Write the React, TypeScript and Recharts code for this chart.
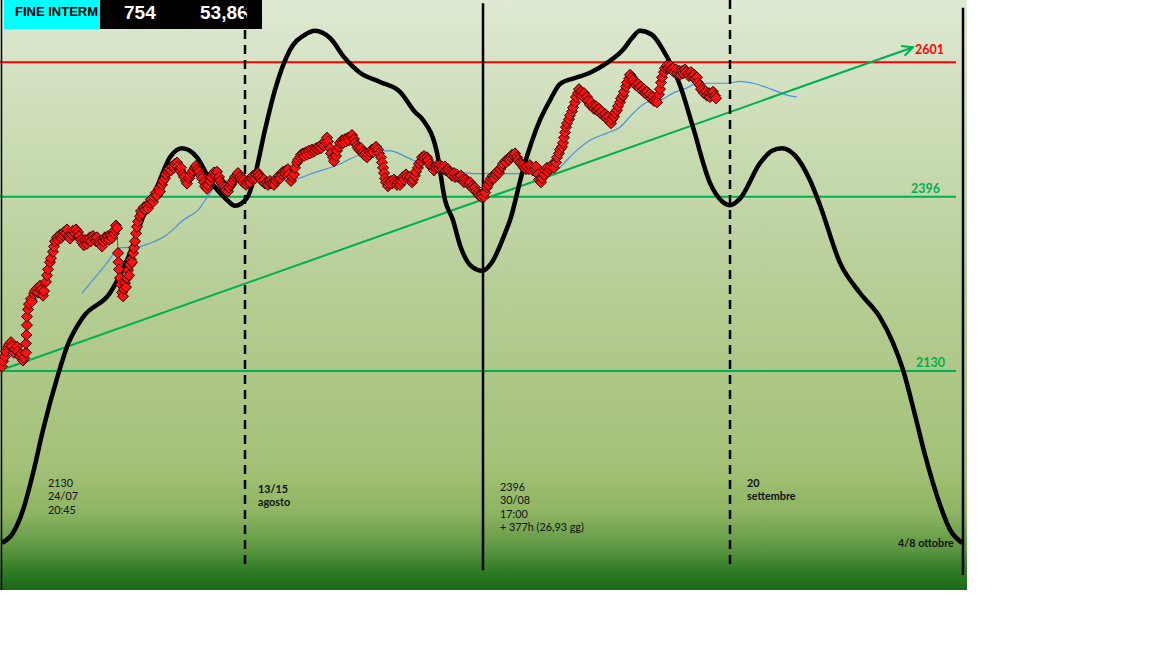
import React from "react";
import { ComposedChart, Line, XAxis, YAxis, ReferenceLine, ReferenceDot } from "recharts";

// x = time position (bar index), y = price
const cycleCurve: [number, number][] = [
  [2, 1868], [13, 1883], [23, 1918], [33, 1974], [43, 2040], [58, 2124], [67, 2167], [83, 2212],
  [110, 2249], [130, 2310], [143, 2365], [157, 2411], [170, 2456], [182, 2470], [197, 2456],
  [210, 2421], [227, 2391], [235, 2382], [247, 2394], [255, 2429], [265, 2498], [275, 2559],
  [290, 2620], [305, 2643], [315, 2649], [330, 2638], [345, 2607], [360, 2585], [380, 2571],
  [400, 2556], [415, 2525], [423, 2513], [437, 2463], [445, 2391], [453, 2360], [460, 2322],
  [472, 2289], [482, 2283], [492, 2296], [505, 2340], [510, 2360], [523, 2437], [540, 2513],
  [550, 2543], [560, 2568], [575, 2577], [590, 2585], [607, 2600], [623, 2620], [632, 2638],
  [640, 2649], [652, 2643], [663, 2620], [680, 2566], [693, 2502], [710, 2417], [720, 2392],
  [730, 2383], [740, 2393], [760, 2447], [772, 2466], [782, 2470], [795, 2459], [810, 2421],
  [820, 2383], [840, 2295], [860, 2249], [880, 2212], [893, 2173], [903, 2132], [915, 2063],
  [925, 2002], [940, 1926], [950, 1888], [962, 1868],
];

const priceSeries: [number, number][] = [
  [2, 2137], [3, 2145], [5, 2152], [6, 2160], [8, 2166], [9, 2170], [11, 2174], [12, 2168], [14, 2158],
  [15, 2163], [17, 2167], [18, 2160], [20, 2152], [21, 2156], [23, 2146], [24, 2150], [26, 2158],
  [26, 2172], [26.5, 2185], [27, 2200], [27, 2213], [28, 2224],
  [29, 2232], [31, 2240], [32, 2236], [34, 2248], [35, 2252], [37, 2256], [38, 2250], [40, 2260],
  [41, 2254], [43, 2245], [44, 2252], [46, 2266], [47, 2276], [48, 2285], [50, 2296], [51, 2302],
  [53, 2312], [54, 2320], [55, 2328], [57, 2334], [58, 2330], [60, 2338], [61, 2333], [63, 2337],
  [64, 2342], [66, 2340], [67, 2346], [69, 2336], [70, 2332], [72, 2338], [73, 2344], [75, 2340],
  [76, 2346], [78, 2342], [79, 2336], [81, 2330], [82, 2326], [84, 2322], [85, 2330], [87, 2324],
  [88, 2330], [90, 2334], [91, 2328], [93, 2336], [94, 2332], [96, 2328], [97, 2334], [99, 2327],
  [100, 2324], [102, 2320], [103, 2328], [105, 2334], [106, 2330], [108, 2336], [109, 2330],
  [111, 2337], [112, 2333], [114, 2340], [115, 2345], [116, 2352], [117, 2348],
  [118, 2310], [118.5, 2296], [119, 2285], [120, 2272], [121, 2262], [122, 2250], [123, 2244],
  [124, 2255], [125, 2264], [126, 2258], [127, 2272], [128, 2284], [129, 2276], [130, 2292],
  [131, 2300], [132, 2296], [133, 2310], [134, 2318], [135, 2328], [136, 2340], [137, 2350],
  [138, 2358], [140, 2366], [141, 2374], [142, 2370], [144, 2380], [145, 2376], [147, 2383],
  [148, 2378], [150, 2386], [151, 2392], [153, 2388], [154, 2396], [156, 2402], [157, 2398],
  [159, 2408], [160, 2404], [162, 2414], [163, 2420], [165, 2424], [166, 2430], [168, 2434],
  [169, 2438], [171, 2436], [172, 2442], [174, 2440], [175, 2446], [177, 2448], [178, 2442],
  [180, 2436], [181, 2440], [183, 2430], [184, 2426], [186, 2420], [187, 2416], [189, 2424],
  [190, 2428], [192, 2432], [193, 2436], [195, 2440], [196, 2443], [198, 2438], [199, 2434],
  [201, 2428], [202, 2424], [204, 2418], [205, 2412], [207, 2408], [208, 2414], [210, 2420],
  [211, 2426], [213, 2430], [214, 2433], [216, 2428], [217, 2434], [219, 2426], [220, 2420],
  [222, 2416], [223, 2412], [225, 2410], [226, 2406], [228, 2404], [229, 2410], [231, 2414],
  [232, 2418], [234, 2422], [235, 2426], [237, 2428], [238, 2432], [240, 2426], [241, 2422],
  [243, 2418], [244, 2422], [246, 2414], [247, 2418], [249, 2422], [250, 2418], [252, 2424],
  [253, 2428], [255, 2424], [256, 2430], [258, 2432], [259, 2428], [261, 2424], [262, 2420],
  [264, 2422], [265, 2416], [267, 2418], [268, 2414], [270, 2420], [271, 2416], [273, 2418],
  [274, 2414], [276, 2420], [277, 2424], [279, 2428], [280, 2424], [282, 2430], [283, 2434],
  [285, 2432], [286, 2436], [288, 2438], [289, 2430], [291, 2420], [292, 2426], [294, 2430],
  [295, 2440], [297, 2448], [298, 2452], [300, 2456], [301, 2460], [303, 2462], [304, 2458],
  [306, 2464], [307, 2460], [309, 2466], [310, 2462], [312, 2468], [313, 2464], [315, 2466],
  [316, 2470], [318, 2468], [319, 2472], [321, 2470], [322, 2476], [324, 2474], [325, 2480],
  [327, 2486], [328, 2480], [330, 2470], [331, 2462], [333, 2456], [334, 2450], [336, 2458],
  [337, 2466], [339, 2472], [340, 2478], [342, 2482], [343, 2478], [345, 2484], [346, 2480],
  [348, 2486], [349, 2482], [351, 2488], [352, 2490], [354, 2484], [355, 2478], [357, 2474],
  [358, 2470], [360, 2466], [361, 2470], [363, 2464], [364, 2460], [366, 2462], [367, 2456],
  [369, 2460], [370, 2464], [372, 2468], [373, 2464], [375, 2470], [376, 2472], [378, 2468],
  [379, 2462], [381, 2456], [382, 2448], [383, 2440], [384, 2432], [385, 2424], [386, 2418],
  [388, 2412], [389, 2416], [391, 2420], [392, 2416], [394, 2422], [395, 2418], [397, 2414],
  [398, 2418], [400, 2414], [401, 2420], [403, 2426], [404, 2422], [406, 2430], [407, 2426],
  [409, 2422], [410, 2426], [412, 2418], [413, 2422], [415, 2428], [416, 2434], [418, 2440],
  [419, 2446], [421, 2450], [422, 2456], [424, 2458], [425, 2454], [427, 2456], [428, 2452],
  [430, 2446], [431, 2442], [433, 2440], [434, 2436], [436, 2440], [437, 2444], [439, 2440],
  [440, 2444], [442, 2442], [443, 2438], [445, 2442], [446, 2436], [448, 2438], [449, 2434],
  [451, 2432], [452, 2428], [454, 2432], [455, 2426], [457, 2430], [458, 2426], [460, 2424],
  [461, 2428], [463, 2422], [464, 2418], [466, 2422], [467, 2418], [469, 2414], [470, 2418],
  [472, 2412], [473, 2408], [475, 2410], [476, 2404], [478, 2402], [479, 2398], [481, 2396],
  [482, 2400], [484, 2396], [485, 2402], [487, 2410], [488, 2414], [490, 2420], [491, 2424],
  [493, 2428], [494, 2424], [496, 2430], [497, 2434], [499, 2432], [500, 2438], [502, 2442],
  [503, 2446], [505, 2450], [506, 2448], [508, 2454], [509, 2452], [511, 2456], [512, 2460],
  [514, 2458], [515, 2462], [517, 2456], [518, 2452], [520, 2448], [521, 2446], [523, 2444],
  [524, 2440], [526, 2438], [527, 2442], [529, 2438], [530, 2444], [532, 2440], [533, 2436],
  [535, 2438], [536, 2442], [538, 2430], [539, 2422], [541, 2418], [542, 2424], [544, 2430],
  [545, 2436], [547, 2440], [548, 2434], [550, 2438], [551, 2442], [553, 2446], [554, 2440],
  [556, 2448], [557, 2456], [559, 2462], [560, 2468], [562, 2472], [563, 2478], [564, 2486],
  [565, 2494], [566, 2502], [567, 2508], [569, 2514], [570, 2520], [572, 2526], [573, 2532],
  [575, 2540], [576, 2548], [578, 2554], [579, 2560], [581, 2556], [582, 2550], [584, 2554],
  [585, 2546], [587, 2548], [588, 2542], [590, 2536], [591, 2540], [593, 2534], [594, 2530],
  [596, 2534], [597, 2528], [599, 2530], [600, 2524], [602, 2526], [603, 2520], [605, 2522],
  [606, 2516], [608, 2518], [609, 2512], [611, 2508], [612, 2514], [614, 2518], [615, 2524],
  [617, 2528], [618, 2534], [620, 2540], [621, 2546], [623, 2550], [624, 2556], [626, 2564],
  [627, 2570], [629, 2576], [630, 2582], [632, 2578], [633, 2574], [635, 2570], [636, 2566],
  [638, 2568], [639, 2562], [641, 2564], [642, 2558], [644, 2560], [645, 2554], [647, 2556],
  [648, 2550], [650, 2552], [651, 2546], [653, 2548], [654, 2542], [656, 2544], [657, 2540],
  [659, 2552], [660, 2560], [661, 2570], [662, 2578], [664, 2586], [665, 2592], [667, 2596],
  [668, 2592], [670, 2596], [671, 2590], [673, 2592], [674, 2586], [676, 2590], [677, 2584],
  [679, 2588], [680, 2582], [682, 2588], [683, 2584], [685, 2590], [686, 2586], [688, 2584],
  [689, 2580], [691, 2586], [692, 2580], [694, 2582], [695, 2576], [697, 2578], [698, 2570],
  [700, 2566], [701, 2560], [703, 2558], [704, 2554], [706, 2556], [707, 2550], [709, 2554],
  [710, 2548], [712, 2552], [713, 2556], [715, 2550], [716, 2546],
];

const averageSeries: [number, number][] = [
  [82, 2249], [93, 2269], [107, 2295], [117, 2315], [120, 2318], [137, 2319], [150, 2325],
  [167, 2338], [183, 2360], [200, 2379], [207, 2395], [217, 2414], [233, 2421], [250, 2424],
  [270, 2424], [290, 2421], [313, 2432], [337, 2444], [360, 2460], [380, 2466], [390, 2466],
  [407, 2456], [420, 2447], [447, 2437], [467, 2432], [480, 2431], [513, 2431], [540, 2432],
  [557, 2437], [567, 2452], [577, 2467], [590, 2482], [607, 2493], [620, 2502], [630, 2518],
  [640, 2533], [647, 2540], [660, 2543], [673, 2554], [687, 2562], [697, 2569], [713, 2569],
  [727, 2569], [740, 2572], [753, 2569], [773, 2559], [787, 2551], [797, 2548],
];

const trendSeries: [number, number][] = [[2, 2132], [913, 2624]];

const levels = [
  { value: 2601, label: "2601", color: "#ff0000", labelX: 915, labelUp: 12 },
  { value: 2396, label: "2396", color: "#00b050", labelX: 911, labelUp: 6 },
  { value: 2130, label: "2130", color: "#00b050", labelX: 916, labelUp: 6 },
];

const notes = [
  { x: 48, y: 1953, lines: ["2130", "24/07", "20:45"], bold: false },
  { x: 258, y: 1944, lines: ["13/15", "agosto"], bold: true },
  { x: 500, y: 1947, lines: ["2396", "30/08", "17:00", "+ 377h (26,93 gg)"], bold: false },
  { x: 747, y: 1953, lines: ["20", "settembre"], bold: true },
  { x: 898, y: 1862, lines: ["4/8 ottobre"], bold: true },
];

const toRows = (s: [number, number][]) => s.map(([t, v]) => ({ t, v }));

const X_DOMAIN: [number, number] = [0, 967];
const Y_DOMAIN: [number, number] = [1796, 2696];

const Diamond = (props: any) => {
  const { cx, cy, index } = props;
  if (cx == null || cy == null) return <g key={`d${index}`} />;
  const s = 5.5;
  return (
    <polygon
      key={`d${index}`}
      points={`${cx},${cy - s} ${cx + s},${cy} ${cx},${cy + s} ${cx - s},${cy}`}
      fill="#ff1010"
      stroke="#2a0000"
      strokeWidth={1}
    />
  );
};

const ArrowDot = (props: any) => {
  const { cx, cy, index, points } = props;
  if (cx == null || !points || index !== points.length - 1) return <g key={`a${index}`} />;
  const p0 = points[0];
  const ang = Math.atan2(cy - p0.y, cx - p0.x);
  const L = 12;
  const a1 = ang + Math.PI - 0.45;
  const a2 = ang + Math.PI + 0.45;
  return (
    <path
      key={`a${index}`}
      d={`M${cx + L * Math.cos(a1)},${cy + L * Math.sin(a1)} L${cx},${cy} L${cx + L * Math.cos(a2)},${cy + L * Math.sin(a2)}`}
      fill="none"
      stroke="#00b050"
      strokeWidth={2}
    />
  );
};

export default function App() {
  const font = "Lato, 'Open Sans', sans-serif";
  return (
    <div
      style={{
        position: "absolute",
        left: 0,
        top: 0,
        width: 967,
        height: 590,
        background:
          "linear-gradient(to bottom, #dfe9d3 0%, #c9dbb2 25%, #b6cd95 50%, #a5c177 79%, #8db462 87%, #5d9642 93%, #2e7a24 97%, #1a681a 100%)",
      }}
    >
      <div style={{ position: "absolute", left: 4, top: 0, width: 96, height: 29, background: "#00ffff" }} />
      <div style={{ position: "absolute", left: 100, top: 0, width: 162, height: 29, background: "#000" }} />
      <div style={{ position: "absolute", left: 15, top: 4, font: "bold 13px 'Liberation Sans', Arial, sans-serif", color: "#000" }}>
        FINE INTERM
      </div>
      <div style={{ position: "absolute", left: 124, top: 2, font: "bold 19px 'Liberation Sans', Arial, sans-serif", color: "#fff" }}>
        754
      </div>
      <div style={{ position: "absolute", left: 200, top: 2, font: "bold 19px 'Liberation Sans', Arial, sans-serif", color: "#fff" }}>
        53,86
      </div>
      <div style={{ position: "absolute", left: 0, top: 0 }}>
        <ComposedChart width={967} height={590} margin={{ top: 0, right: 0, bottom: 0, left: 0 }}>
          <XAxis type="number" dataKey="t" domain={X_DOMAIN} allowDataOverflow hide />
          <YAxis type="number" dataKey="v" domain={Y_DOMAIN} allowDataOverflow hide />
          {levels.map((l) => (
            <ReferenceLine
              key={l.label}
              segment={[{ x: 0, y: l.value }, { x: 956, y: l.value }]}
              stroke={l.color}
              strokeWidth={2}
              ifOverflow="visible"
            />
          ))}
          <Line
            data={toRows(priceSeries)}
            dataKey="v"
            type="linear"
            stroke="#ff2020"
            strokeWidth={1}
            dot={Diamond}
            activeDot={false}
            isAnimationActive={false}
          />
          <Line
            data={toRows(averageSeries)}
            dataKey="v"
            type="monotone"
            stroke="#4f8fe0"
            strokeWidth={1.2}
            dot={false}
            activeDot={false}
            isAnimationActive={false}
          />
          <Line
            data={toRows(trendSeries)}
            dataKey="v"
            type="linear"
            stroke="#00b050"
            strokeWidth={2}
            dot={ArrowDot}
            activeDot={false}
            isAnimationActive={false}
          />
          <Line
            data={toRows(cycleCurve)}
            dataKey="v"
            type="monotone"
            stroke="#000"
            strokeWidth={4.5}
            dot={false}
            activeDot={false}
            isAnimationActive={false}
          />
          <ReferenceLine segment={[{ x: 245, y: 2696 }, { x: 245, y: 1830 }]} stroke="#000" strokeWidth={2.5} strokeDasharray="9 6" ifOverflow="visible" />
          <ReferenceLine segment={[{ x: 730, y: 2696 }, { x: 730, y: 1830 }]} stroke="#000" strokeWidth={2.5} strokeDasharray="9 6" ifOverflow="visible" />
          <ReferenceLine segment={[{ x: 483, y: 2691 }, { x: 483, y: 1826 }]} stroke="#000" strokeWidth={2.5} ifOverflow="visible" />
          <ReferenceLine segment={[{ x: 963, y: 2684 }, { x: 963, y: 1819 }]} stroke="#000" strokeWidth={2.5} ifOverflow="visible" />
          <ReferenceLine segment={[{ x: 1.5, y: 2696 }, { x: 1.5, y: 1796 }]} stroke="#000" strokeWidth={1.5} ifOverflow="visible" />
          {levels.map((l) => (
            <ReferenceDot
              key={`lab${l.label}`}
              x={l.labelX}
              y={l.value + l.labelUp}
              r={1}
              ifOverflow="visible"
              shape={(p: any) => (
                <text x={p.cx} y={p.cy} fill={l.color} fontFamily={font} fontWeight="bold" fontSize={12.5}>
                  {l.label}
                </text>
              )}
            />
          ))}
          {notes.map((n, i) => (
            <ReferenceDot
              key={`note${i}`}
              x={n.x}
              y={n.y}
              r={1}
              ifOverflow="visible"
              shape={(p: any) => (
                <text x={p.cx} y={p.cy} fill="#111" fontFamily={font} fontWeight={n.bold ? "bold" : "normal"} fontSize={10.8}>
                  {n.lines.map((line, j) => (
                    <tspan key={j} x={p.cx} dy={j === 0 ? 0 : 13.3}>
                      {line}
                    </tspan>
                  ))}
                </text>
              )}
            />
          ))}
        </ComposedChart>
      </div>
    </div>
  );
}
